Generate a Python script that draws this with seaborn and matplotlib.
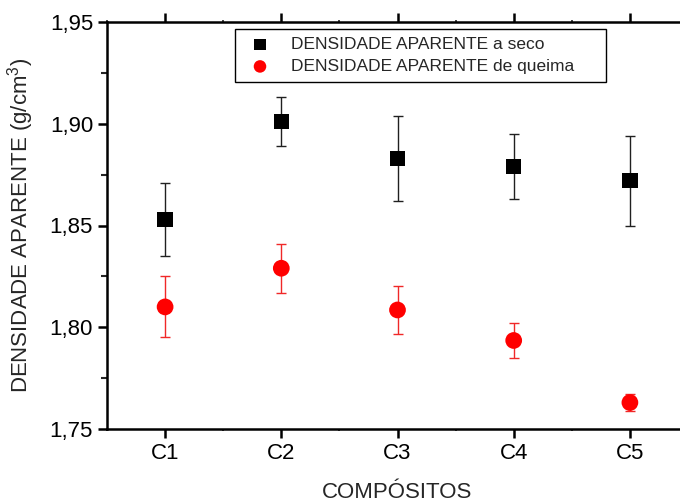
import numpy as np
import pandas as pd
import seaborn as sns
import matplotlib
matplotlib.use("Agg")
import matplotlib.pyplot as plt
from matplotlib.ticker import FuncFormatter, MultipleLocator

# dados
compositos = ["C1", "C2", "C3", "C4", "C5"]
dens_seco = [1.853, 1.901, 1.883, 1.879, 1.872]
erro_seco = [0.018, 0.012, 0.021, 0.016, 0.022]
dens_queima = [1.810, 1.829, 1.8085, 1.7935, 1.763]
erro_queima = [0.015, 0.012, 0.0117, 0.0088, 0.0043]

sns.set_style("ticks")
plt.rcParams['font.family'] = ['Liberation Sans', 'DejaVu Sans']
plt.rcParams['mathtext.fontset'] = 'custom'
plt.rcParams['mathtext.rm'] = 'Liberation Sans'
plt.rcParams['mathtext.it'] = 'Liberation Sans'

df = pd.DataFrame({
    'comp': compositos * 2,
    'dens': dens_seco + dens_queima,
    'erro': erro_seco + erro_queima,
    'serie': ['DENSIDADE APARENTE a seco'] * 5 + ['DENSIDADE APARENTE de queima'] * 5,
})

fig = plt.figure(figsize=(6.8, 5.04), dpi=100)
ax = fig.add_axes([107 / 680, 75 / 504, 581 / 680, 407 / 504])

# barras de erro
seco = df[df.serie == 'DENSIDADE APARENTE a seco']
queima = df[df.serie == 'DENSIDADE APARENTE de queima']
ax.errorbar(seco.comp, seco.dens, yerr=seco.erro, fmt='none', ecolor='#202020',
            elinewidth=1.0, capsize=3.5, capthick=1.0, zorder=2)
ax.errorbar(queima.comp, queima.dens, yerr=queima.erro, fmt='none', ecolor='#f02828',
            elinewidth=1.0, capsize=3.5, capthick=1.0, zorder=2)

sns.scatterplot(data=seco, x='comp', y='dens', marker='s', s=125, color='black',
                edgecolor='none', ax=ax, zorder=3, label='DENSIDADE APARENTE a seco')
sns.scatterplot(data=queima, x='comp', y='dens', marker='o', s=145, color='#ff0000',
                edgecolor='none', ax=ax, zorder=3, label='DENSIDADE APARENTE de queima')

ax.set_xlim(-0.5, 4.5)
ax.set_ylim(1.75, 1.95)
ax.yaxis.set_major_locator(MultipleLocator(0.05))
ax.yaxis.set_minor_locator(MultipleLocator(0.025))
ax.xaxis.set_minor_locator(MultipleLocator(0.5))
ax.yaxis.set_major_formatter(FuncFormatter(lambda v, p: f"{v:.2f}".replace('.', ',')))

for s in ax.spines.values():
    s.set_linewidth(1.8)
    s.set_color('black')

ax.tick_params(axis='both', which='major', length=6.5, width=1.8, labelsize=16,
               pad=3.5, colors='black')
ax.tick_params(axis='y', which='minor', length=4, width=1.5)
ax.tick_params(axis='x', which='minor', length=1.5, width=1.2)
ax.tick_params(axis='x', which='both', top=True)
ax.tick_params(axis='x', which='major', length=6.5)

ax.set_xlabel('COMPÓSITOS', fontsize=16, labelpad=13)
ax.set_ylabel('DENSIDADE APARENTE (g/cm$^3$)', fontsize=16, labelpad=10)

leg = ax.legend(loc='upper left', bbox_to_anchor=(0.22, 0.855, 0.639, 0.128),
                mode='expand', borderaxespad=0, fontsize=12.5, frameon=True,
                fancybox=False, framealpha=1, edgecolor='black',
                markerscale=0.75, handletextpad=0.8, labelspacing=0.4,
                borderpad=0.45)
leg.get_frame().set_linewidth(1.0)

fig.savefig('out.png', dpi=100)
